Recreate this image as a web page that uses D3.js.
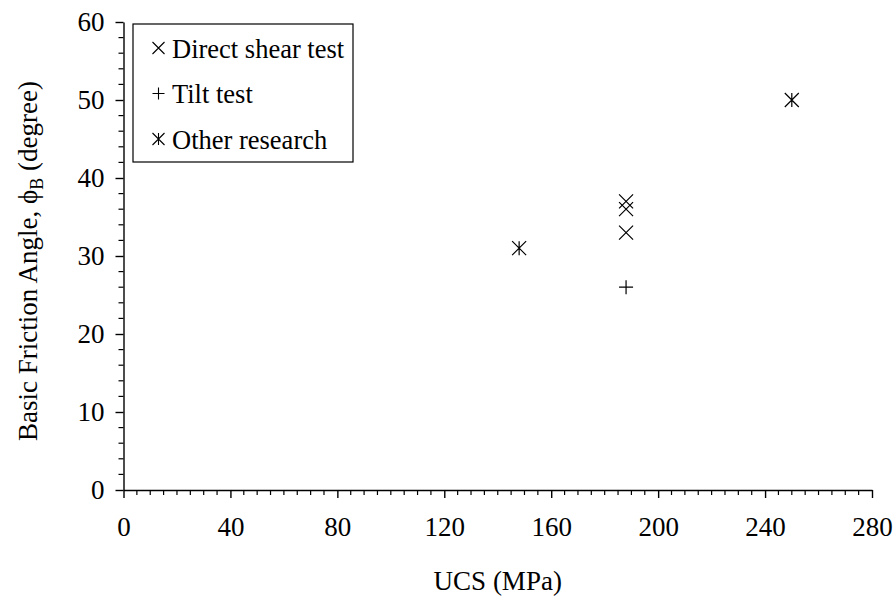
<!DOCTYPE html>
<html>
<head>
<meta charset="utf-8">
<script src="https://cdn.jsdelivr.net/npm/d3@7"></script>
<style>
  html, body { margin: 0; padding: 0; background: #fff; }
  svg { display: block; font-family: "Liberation Serif", "Times New Roman", serif; }
</style>
</head>
<body>
<svg id="chart" width="896" height="598"></svg>
<script>
// UCS (MPa) vs basic friction angle (degrees)
const directShearUCS = [188, 188, 188];
const directShearPhi = [33, 36, 37];
const tiltUCS = [188];
const tiltPhi = [26];
const otherUCS = [148, 250];
const otherPhi = [31, 50];

const xTicks = [0, 40, 80, 120, 160, 200, 240, 280];
const yTicks = [0, 10, 20, 30, 40, 50, 60];
const legendLabels = ["Direct shear test", "Tilt test", "Other research"];

const svg = d3.select("#chart");
const x = d3.scaleLinear().domain([0, 280]).range([123.5, 872]);
const y = d3.scaleLinear().domain([0, 60]).range([490, 22]);

const ink = "#000";
const fontSize = "27px";

// minor ticks
const xMinor = d3.range(0, 281, 5).filter(v => v % 40 !== 0);
const yMinor = d3.range(0, 61, 2).filter(v => v % 10 !== 0);

svg.append("g").selectAll("line").data(xMinor).join("line")
  .attr("x1", d => x(d)).attr("x2", d => x(d))
  .attr("y1", y(0)).attr("y2", y(0) + 5)
  .attr("stroke", ink).attr("stroke-width", 1.2);
svg.append("g").selectAll("line").data(yMinor).join("line")
  .attr("x1", x(0) - 5).attr("x2", x(0))
  .attr("y1", d => y(d)).attr("y2", d => y(d))
  .attr("stroke", ink).attr("stroke-width", 1.2);

// axes with major ticks
const xAxis = svg.append("g").attr("transform", `translate(0,${y(0)})`)
  .call(d3.axisBottom(x).tickValues(xTicks).tickSize(8).tickPadding(19).tickSizeOuter(0));
const yAxis = svg.append("g").attr("transform", `translate(${x(0)},0)`)
  .call(d3.axisLeft(y).tickValues(yTicks).tickSize(8).tickPadding(11).tickSizeOuter(0));

[xAxis, yAxis].forEach(g => {
  g.attr("font-family", null).attr("font-size", null);
  g.select(".domain").attr("stroke", ink).attr("stroke-width", 1.4);
  g.selectAll(".tick line").attr("stroke", ink).attr("stroke-width", 1.4);
  g.selectAll(".tick text").attr("fill", ink).style("font-size", fontSize);
});

// axis titles
svg.append("text")
  .attr("x", (x(0) + x(280)) / 2).attr("y", 590)
  .attr("text-anchor", "middle").attr("fill", ink)
  .style("font-size", fontSize)
  .text("UCS (MPa)");

const yt = svg.append("text")
  .attr("transform", `translate(37,${(y(0) + y(60)) / 2 + 5}) rotate(-90)`)
  .attr("text-anchor", "middle").attr("fill", ink)
  .style("font-size", fontSize);
yt.append("tspan").text("Basic Friction Angle, \u03D5");
yt.append("tspan").attr("dy", 6).style("font-size", "18px").text("B");
yt.append("tspan").attr("dy", -6).text(" (degree)");

// marker paths
function markerPath(shape, s) {
  if (shape === "cross") return `M${-s},${-s}L${s},${s}M${-s},${s}L${s},${-s}`;
  if (shape === "plus") return `M${-s},0L${s},0M0,${-s}L0,${s}`;
  return `M${-s},${-s}L${s},${s}M${-s},${s}L${s},${-s}M0,${-s}L0,${s}`;
}

function plotSeries(xs, ys, shape) {
  svg.append("g").selectAll("path").data(xs.map((v, i) => [v, ys[i]])).join("path")
    .attr("transform", d => `translate(${x(d[0])},${y(d[1])})`)
    .attr("d", markerPath(shape, 7))
    .attr("fill", "none").attr("stroke", ink).attr("stroke-width", 1.2);
}
plotSeries(directShearUCS, directShearPhi, "cross");
plotSeries(tiltUCS, tiltPhi, "plus");
plotSeries(otherUCS, otherPhi, "star");

// legend
const lg = svg.append("g");
lg.append("rect").attr("x", 133).attr("y", 24).attr("width", 220).attr("height", 138)
  .attr("fill", "#fff").attr("stroke", ink).attr("stroke-width", 1.2);
const shapes = ["cross", "plus", "star"];
legendLabels.forEach((lab, i) => {
  const base = 57.5 + i * 45.5;
  lg.append("path").attr("transform", `translate(158.5,${base - 9.5})`)
    .attr("d", markerPath(shapes[i], 6))
    .attr("fill", "none").attr("stroke", ink).attr("stroke-width", 1.1);
  lg.append("text").attr("x", 172).attr("y", base)
    .attr("fill", ink).style("font-size", "26.5px").text(lab);
});
</script>
</body>
</html>
